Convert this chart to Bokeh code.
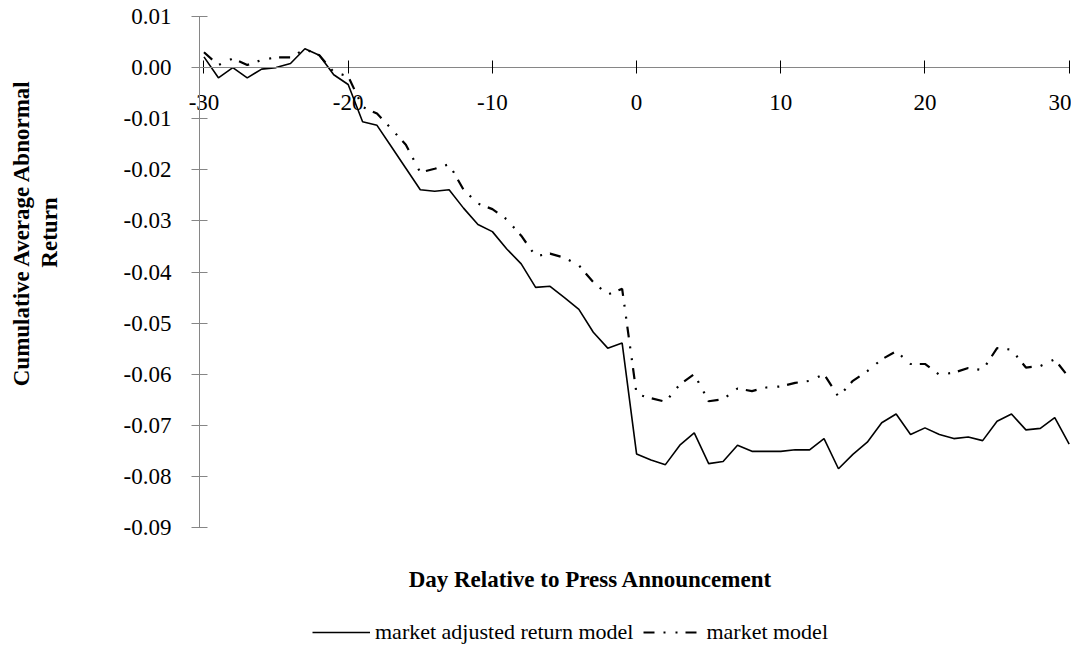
import math
from bokeh.plotting import figure
from bokeh.models import (LinearAxis, FixedTicker, PrintfTickFormatter, Legend, LegendItem,
                          Range1d, Label)
from bokeh.embed import file_html
from bokeh.resources import INLINE

# ---------------- data ----------------
days = list(range(-30, 31))

market_adjusted = [
    0.0021, -0.0020, 0.0000, -0.0020, -0.0003, 0.0000, 0.0008, 0.0037, 0.0024, -0.0014,
    -0.0033, -0.0106, -0.0113, -0.0155, -0.0197, -0.0239, -0.0242, -0.0239, -0.0275, -0.0307,
    -0.0321, -0.0355, -0.0384, -0.0430, -0.0428, -0.0450, -0.0473, -0.0518, -0.0549, -0.0539,
    -0.0756, -0.0768, -0.0777, -0.0739, -0.0715, -0.0775, -0.0771, -0.0739, -0.0751, -0.0751,
    -0.0751, -0.0748, -0.0748, -0.0726, -0.0785, -0.0757, -0.0733, -0.0695, -0.0678, -0.0718,
    -0.0705, -0.0718, -0.0726, -0.0723, -0.0730, -0.0692, -0.0678, -0.0709, -0.0706, -0.0685,
    -0.0737,
]

market_model = [
    0.0030, 0.0005, 0.0018, 0.0005, 0.0015, 0.0020, 0.0020, 0.0036, 0.0024, -0.0009,
    -0.0017, -0.0077, -0.0090, -0.0120, -0.0151, -0.0205, -0.0198, -0.0189, -0.0239, -0.0266,
    -0.0277, -0.0297, -0.0329, -0.0369, -0.0364, -0.0372, -0.0387, -0.0420, -0.0444, -0.0433,
    -0.0639, -0.0647, -0.0654, -0.0620, -0.0600, -0.0653, -0.0649, -0.0628, -0.0633, -0.0626,
    -0.0624, -0.0617, -0.0613, -0.0600, -0.0644, -0.0613, -0.0594, -0.0571, -0.0555, -0.0580,
    -0.0580, -0.0601, -0.0597, -0.0588, -0.0592, -0.0549, -0.0552, -0.0587, -0.0584, -0.0571,
    -0.0607,
]

x_ticks = [-30, -20, -10, 0, 10, 20, 30]
x_tick_labels = ["-30", "-20", "-10", "0", "10", "20", "30"]
y_ticks = [0.01, 0.00, -0.01, -0.02, -0.03, -0.04, -0.05, -0.06, -0.07, -0.08, -0.09]

series_names = ["market adjusted return model", "market model"]
x_title = "Day Relative to Press Announcement"
y_title_lines = ["Cumulative Average Abnormal", "Return"]

FONT = "Liberation Serif"
AXIS_GREY = "#868686"

# ---------------- layout geometry (canvas pixels) ----------------
W, H = 1071, 645
AXIS_X_LEFT = -30.31          # where the value axis stands
X_AXIS_END = 30.0
PX_PER_DAY = 14.42
PX_PER_UNIT = 5110.0          # pixels per 1.0 of return
AXIS_LEFT_PX = 199            # canvas x of the value axis
TOP_PX = 16                   # canvas y of the 0.01 level


def dx(px):
    """canvas x pixel -> day coordinate"""
    return AXIS_X_LEFT + (px - AXIS_LEFT_PX) / PX_PER_DAY


def dy(py):
    """canvas y pixel -> return coordinate"""
    return y_ticks[0] - (py - TOP_PX) / PX_PER_UNIT


p = figure(width=W, height=H,
           x_range=Range1d(dx(0), dx(W)), y_range=Range1d(dy(H), dy(0)),
           output_backend="svg", toolbar_location=None,
           x_axis_location=None, y_axis_location=None,
           min_border_left=0, min_border_top=0, min_border_right=0,
           min_border_bottom=0)
p.outline_line_color = None
p.xgrid.visible = False
p.ygrid.visible = False
p.background_fill_color = "white"
p.border_fill_color = "white"

# value axis
ya = LinearAxis(ticker=FixedTicker(ticks=y_ticks), fixed_location=AXIS_X_LEFT,
                bounds=(min(y_ticks), max(y_ticks)),
                formatter=PrintfTickFormatter(format="%.2f"),
                axis_line_color=AXIS_GREY, major_tick_line_color=AXIS_GREY,
                major_tick_in=8, major_tick_out=8, minor_tick_line_color=None,
                major_label_standoff=20, major_label_text_font=FONT,
                major_label_text_font_size="23px", major_label_text_color="black")
p.add_layout(ya, "left")

# day axis crossing at 0
xa = LinearAxis(ticker=FixedTicker(ticks=x_ticks), fixed_location=0,
                bounds=(AXIS_X_LEFT, X_AXIS_END),
                major_label_overrides={t: s for t, s in zip(x_ticks, x_tick_labels)},
                axis_line_color=AXIS_GREY, major_tick_line_color="black",
                major_tick_in=7, major_tick_out=6, minor_tick_line_color=None,
                major_label_standoff=21, major_label_text_font=FONT,
                major_label_text_font_size="23px", major_label_text_color="black")
p.add_layout(xa, "below")

# axis titles
p.add_layout(Label(x=dx(590), y=dy(579), text=x_title, text_align="center",
                   text_baseline="middle", text_font=FONT, text_font_style="bold",
                   text_font_size="23px", text_color="black"))
p.add_layout(Label(x=dx(21), y=dy(232), text=y_title_lines[0], angle=math.pi / 2,
                   text_align="center", text_baseline="middle", text_font=FONT,
                   text_font_style="bold", text_font_size="23px", text_color="black"))
p.add_layout(Label(x=dx(49), y=dy(232), text=y_title_lines[1], angle=math.pi / 2,
                   text_align="center", text_baseline="middle", text_font=FONT,
                   text_font_style="bold", text_font_size="23px", text_color="black"))

# lines
r1 = p.line(days, market_adjusted, line_color="black", line_width=1.6)
r2 = p.line(days, market_model, line_color="black", line_width=2.2,
            line_dash="11 9 2 10 2 8")

legend = Legend(items=[LegendItem(label=series_names[0], renderers=[r1]),
                       LegendItem(label=series_names[1], renderers=[r2])],
                orientation="horizontal", location=(312, 0),
                border_line_color=None, background_fill_alpha=0,
                margin=0, padding=0, spacing=10, glyph_width=58, glyph_height=20,
                label_standoff=5, label_text_font=FONT, label_text_font_size="22px",
                label_text_color="black")
p.add_layout(legend, "center")

open("out.html", "w").write(file_html(p, INLINE))
